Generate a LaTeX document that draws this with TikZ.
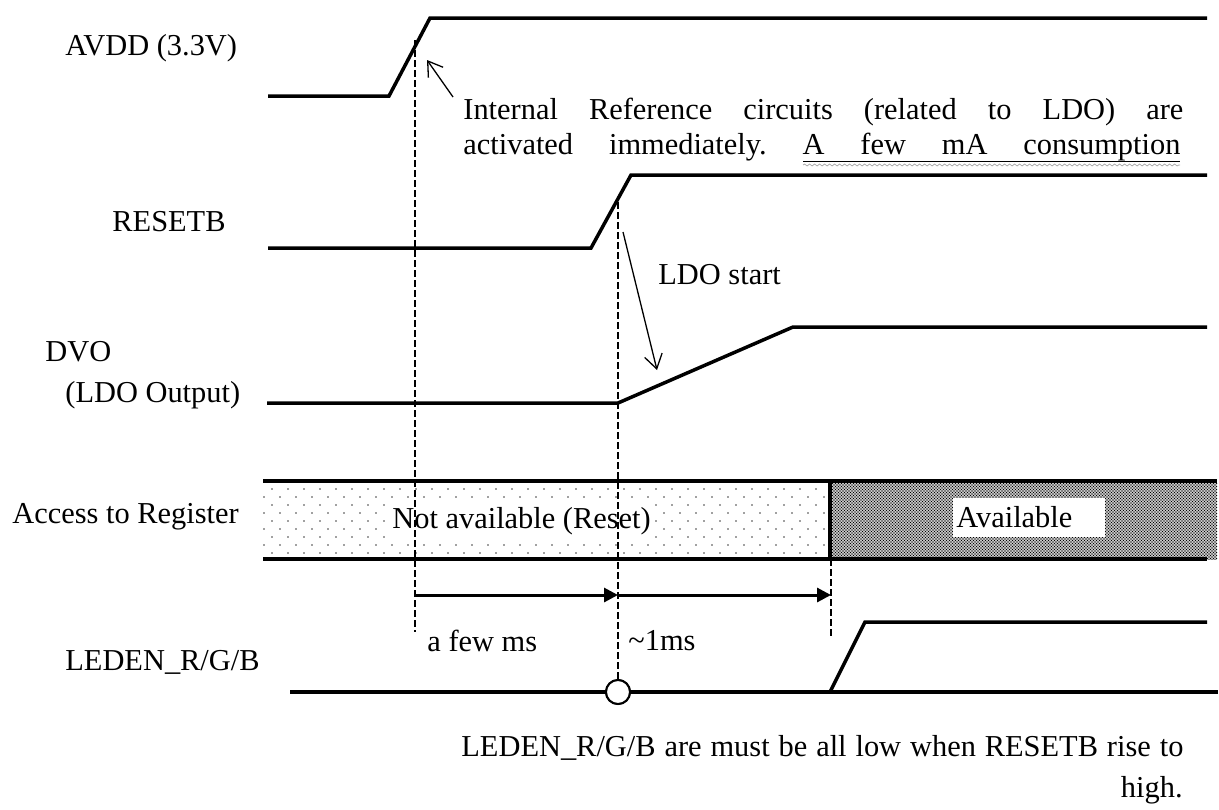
\documentclass[tikz,border=0pt]{standalone}
\usepackage{fontspec}
\setmainfont{Liberation Serif}
\usetikzlibrary{positioning}
\usetikzlibrary{arrows.meta}
\usetikzlibrary{patterns}
\usetikzlibrary{decorations.pathmorphing}
\usetikzlibrary{calc}

\pgfdeclarepatternformonly{sparse dots}{\pgfqpoint{-1pt}{-1pt}}{\pgfqpoint{7pt}{7pt}}{\pgfqpoint{8pt}{8pt}}{
  \pgfpathcircle{\pgfqpoint{0pt}{0pt}}{0.45pt}
  \pgfpathcircle{\pgfqpoint{4pt}{4pt}}{0.45pt}
  \pgfusepath{fill}}
\pgfdeclarepatternformonly{dense dots}{\pgfqpoint{-0.5pt}{-0.5pt}}{\pgfqpoint{1.25pt}{1.25pt}}{\pgfqpoint{1.5pt}{1.5pt}}{
  \pgfpathcircle{\pgfqpoint{0pt}{0pt}}{0.4pt}
  \pgfpathcircle{\pgfqpoint{0.75pt}{0.75pt}}{0.4pt}
  \pgfusepath{fill}}

\tikzstyle{txt}=[font=\fontsize{15.2}{18}\selectfont\frenchspacing, inner sep=0pt]
\tikzstyle{signal}=[line width=1.75pt, line join=miter]
\tikzstyle{guide}=[line width=0.65pt, dash pattern=on 3.5pt off 1.5pt]
\tikzstyle{note}=[line width=0.65pt, -{Straight Barb[length=7pt,width=9pt]}]
\tikzstyle{span}=[line width=1.5pt, -{Triangle[length=7pt,width=7pt]}]
\tikzstyle{check}=[circle, draw, fill=white, line width=1pt, minimum size=12pt, inner sep=0pt]

\begin{document}
\begin{tikzpicture}[x=0.5pt, y=-0.5pt]
  \useasboundingbox (0,0) rectangle (1219,809);

  % signal names
  \foreach \x/\y/\name/\lbl in {65/48/avdd/{AVDD (3.3V)}, 112/222/resetb/{RESETB}, 45/352/dvo/{DVO},
                               65/395/ldoout/{(LDO Output)}, 12/517/reg/{Access to Register}, 65/662/leden/{LEDEN\_R/G/B}}
    \node[txt, anchor=west] (\name) at (\x,\y) {\lbl};

  % register access band
  \fill[pattern=sparse dots, pattern color=black!75] (263,481) rectangle (830,559);
  \fill[pattern=dense dots, pattern color=black] (830,481) rectangle (1217,559);
  \draw[signal] (263,481) -- (1217,481);
  \draw[signal] (263,559) -- (1207,559);
  \draw[signal] (830,481) -- (830,559);
  \node[txt, anchor=west, fill=white, inner xsep=1pt, inner ysep=2pt] (notav) at (390,521) {Not available (Reset)};
  \node[txt, anchor=west, fill=white, minimum height=19.5pt] (avail) at (953,517) {\makebox[76pt][l]{\hspace{1.5pt}Available}};

  % annotations
  \node[txt, anchor=west] (ref1) at (463,112) {\makebox[360pt][s]{Internal Reference circuits (related to LDO) are}};
  \node[txt, anchor=west] (ref2) at (463,147) {\makebox[358.5pt][s]{activated immediately. A few mA consumption}};
  \coordinate (ulstart) at (803,161);
  \coordinate (ulend) at (1180,161);
  \draw[line width=0.4pt] (ulstart) -- (ulend);
  \draw[gray!70, line width=0.35pt, decorate, decoration={snake, amplitude=0.5pt, segment length=2.5pt}]
    ($(ulstart)+(0,4)$) -- ($(ulend)+(0,4)$);
  \node[txt, anchor=west] (ldo) at (658,275) {LDO start};
  \node[txt, anchor=west] (fewms) at (427,641) {a few ms};
  \node[txt, anchor=west] (onems) at (628,641) {\textasciitilde1ms};
  \node[txt, anchor=west] (must) at (461,748) {\makebox[361pt][s]{LEDEN\_R/G/B are must be all low when RESETB rise to}};
  \node[txt, anchor=east] (high) at (1183,790) {high.};

  % timing guides
  \coordinate (t1top) at (415,40);
  \coordinate (t1bot) at (415,632);
  \coordinate (t2top) at (618,202);
  \coordinate (t3top) at (831,559);
  \coordinate (t3bot) at (831,637);
  \node[check] (chk) at (618,692) {};
  \draw[guide] (t1top) -- (t1bot);
  \draw[guide] (t2top) -- (chk.north);
  \draw[guide] (t3top) -- (t3bot);

  % waveforms
  \draw[signal] (268,96) -- (389,96) -- (430,18) -- (1207,18);
  \draw[signal] (268,248) -- (591,248) -- (631,175) -- (1207,175);
  \draw[signal] (267,403) -- (618,403) -- (793,327) -- (1207,327);
  \draw[signal] (290,692) -- (1218,692);
  \draw[signal] (830,692) -- (865,622) -- (1207,622);
  \node[check] at (chk) {};

  % arrows
  \coordinate (reftail) at (453,97);
  \coordinate (refhead) at (427,60);
  \draw[note] (reftail) -- (refhead);
  \coordinate (ldotail) at (623,232);
  \coordinate (ldohead) at (657,370);
  \draw[note] (ldotail) -- (ldohead);
  \coordinate (s1) at (415,595);
  \coordinate (s2) at (618,595);
  \coordinate (s3) at (831,595);
  \draw[span] (s1) -- (s2);
  \draw[span] (s2) -- (s3);
\end{tikzpicture}
\end{document}
